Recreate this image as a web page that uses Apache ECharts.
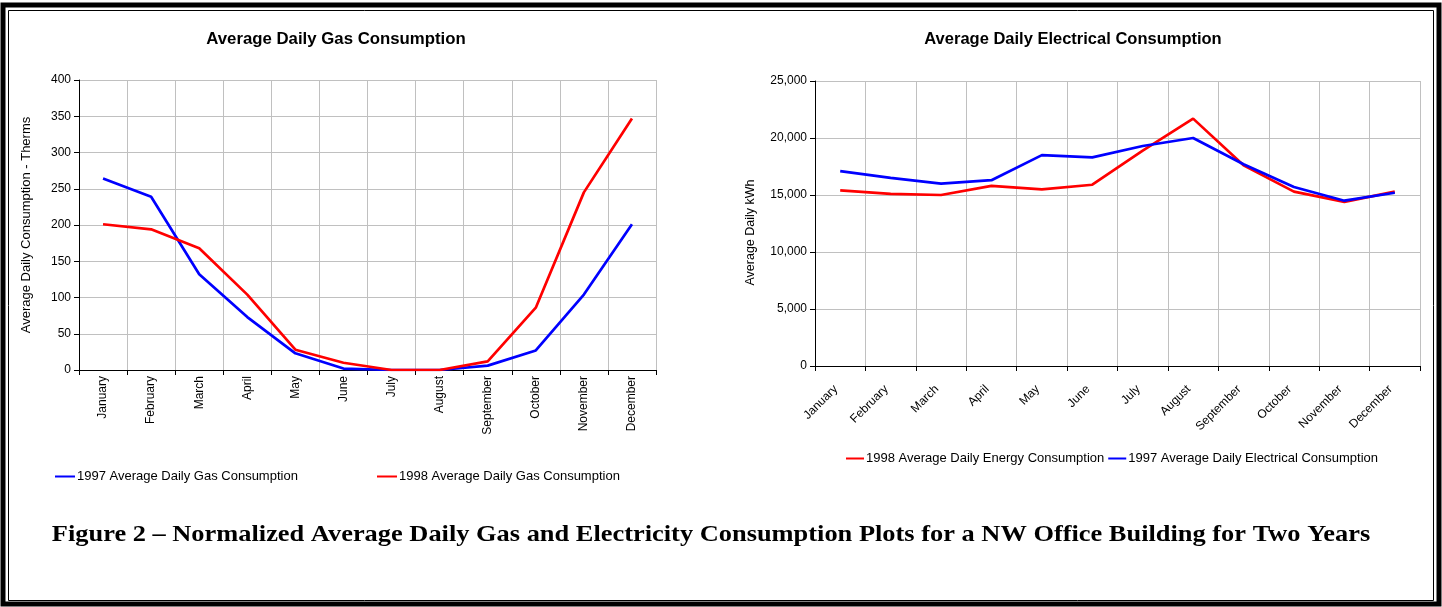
<!DOCTYPE html>
<html><head><meta charset="utf-8">
<script src="https://cdn.jsdelivr.net/npm/echarts@6/dist/echarts.min.js"></script>
<style>html,body{margin:0;padding:0;background:#fff}#c{width:1442px;height:607px}</style>
</head><body><div id="c"></div>
<script>
const months = ['January','February','March','April','May','June','July','August','September','October','November','December'];
const gas1997 = [264,239,132,73,23,2,0,0,6,27,104,201];
const gas1998 = [201,194,168,104,28,10,0,0,12,86,245,347];
const elec1998 = [15400,15100,15000,15800,15500,15900,18900,21700,17600,15300,14400,15300];
const elec1997 = [17100,16500,16000,16300,18500,18300,19300,20000,17700,15700,14500,15200];

const FONT = 'Liberation Sans, Arial, sans-serif';
const chart = echarts.init(document.getElementById('c'), null, {renderer:'canvas'});
const axisLab = {color:'#000', fontFamily:FONT, fontSize:12};
const grid = {lineStyle:{color:'#c0c0c0', width:1}};
const legText = {fontFamily:FONT, fontSize:13, color:'#000', padding:[0,0,0,-3]};
chart.setOption({
  animation:false,
  title:[
    {text:'Average Daily Gas Consumption', left:336, top:31, textAlign:'center', padding:0,
     textStyle:{fontFamily:FONT, fontSize:16.8, fontWeight:'bold', color:'#000'}},
    {text:'Average Daily Electrical Consumption', left:1073, top:31, textAlign:'center', padding:0,
     textStyle:{fontFamily:FONT, fontSize:16.5, fontWeight:'bold', color:'#000'}}
  ],
  legend:[
    {data:['1997 Average Daily Gas Consumption'], left:55, top:470, padding:0, icon:'rect', itemWidth:20, itemHeight:2,
     textStyle:legText},
    {data:['1998 Average Daily Gas Consumption'], left:377, top:470, padding:0, icon:'rect', itemWidth:20, itemHeight:2,
     textStyle:legText},
    {data:['1998 Average Daily Energy Consumption','1997 Average Daily Electrical Consumption'], left:846, top:452, padding:0,
     icon:'rect', itemWidth:18, itemHeight:2, itemGap:4, textStyle:legText}
  ],
  grid:[
    {left:79, top:80, width:577, height:290},
    {left:815, top:81, width:605, height:285}
  ],
  xAxis:[
    {type:'category', gridIndex:0, data:months, boundaryGap:true,
     axisLine:{lineStyle:{color:'#000'}}, axisTick:{show:true, length:5, lineStyle:{color:'#000'}},
     axisLabel:Object.assign({rotate:90, interval:0, margin:6}, axisLab),
     splitLine:Object.assign({show:true}, grid)},
    {type:'category', gridIndex:1, data:months, boundaryGap:true,
     axisLine:{lineStyle:{color:'#000'}}, axisTick:{show:true, length:5, lineStyle:{color:'#000'}},
     axisLabel:Object.assign({rotate:45, interval:0, margin:17, padding:[0,6,0,0]}, axisLab),
     splitLine:Object.assign({show:true}, grid)}
  ],
  yAxis:[
    {type:'value', gridIndex:0, min:0, max:400, interval:50,
     name:'Average Daily Consumption - Therms', nameLocation:'middle', nameGap:46,
     nameTextStyle:{fontFamily:FONT, fontSize:13, color:'#000'},
     axisLine:{show:true, lineStyle:{color:'#000'}}, axisTick:{show:true, length:5, lineStyle:{color:'#000'}},
     axisLabel:Object.assign({margin:8}, axisLab), splitLine:Object.assign({show:true}, grid)},
    {type:'value', gridIndex:1, min:0, max:25000, interval:5000,
     name:'Average Daily kWh', nameLocation:'middle', nameGap:58,
     nameTextStyle:{fontFamily:FONT, fontSize:12.5, color:'#000', padding:[0,18,0,0]},
     axisLine:{show:true, lineStyle:{color:'#000'}}, axisTick:{show:true, length:5, lineStyle:{color:'#000'}},
     axisLabel:Object.assign({margin:8, formatter:v=>v.toLocaleString('en-US')}, axisLab),
     splitLine:Object.assign({show:true}, grid)}
  ],
  series:[
    {name:'1997 Average Daily Gas Consumption', type:'line', xAxisIndex:0, yAxisIndex:0, data:gas1997,
     showSymbol:false, symbol:'none', color:'#0000ff', lineStyle:{color:'#0000ff', width:2.7}},
    {name:'1998 Average Daily Gas Consumption', type:'line', xAxisIndex:0, yAxisIndex:0, data:gas1998,
     showSymbol:false, symbol:'none', color:'#ff0000', lineStyle:{color:'#ff0000', width:2.7}},
    {name:'1998 Average Daily Energy Consumption', type:'line', xAxisIndex:1, yAxisIndex:1, data:elec1998,
     showSymbol:false, symbol:'none', color:'#ff0000', lineStyle:{color:'#ff0000', width:2.7}},
    {name:'1997 Average Daily Electrical Consumption', type:'line', xAxisIndex:1, yAxisIndex:1, data:elec1997,
     showSymbol:false, symbol:'none', color:'#0000ff', lineStyle:{color:'#0000ff', width:2.7}}
  ],
  graphic:[
    {type:'rect', shape:{x:3, y:5, width:1436, height:599}, style:{fill:null, stroke:'#000', lineWidth:5}, silent:true},
    {type:'rect', shape:{x:8.5, y:10.5, width:1425, height:590}, style:{fill:null, stroke:'#000', lineWidth:1}, silent:true},
    {type:'text', x:711, y:535, scaleX:1.1, silent:true,
     style:{text:'Figure 2 – Normalized Average Daily Gas and Electricity Consumption Plots for a NW Office Building for Two Years',
            font:'bold 24px "Liberation Serif", "Times New Roman", serif', fill:'#000', textAlign:'center', textVerticalAlign:'middle'}}
  ]
});
</script></body></html>
